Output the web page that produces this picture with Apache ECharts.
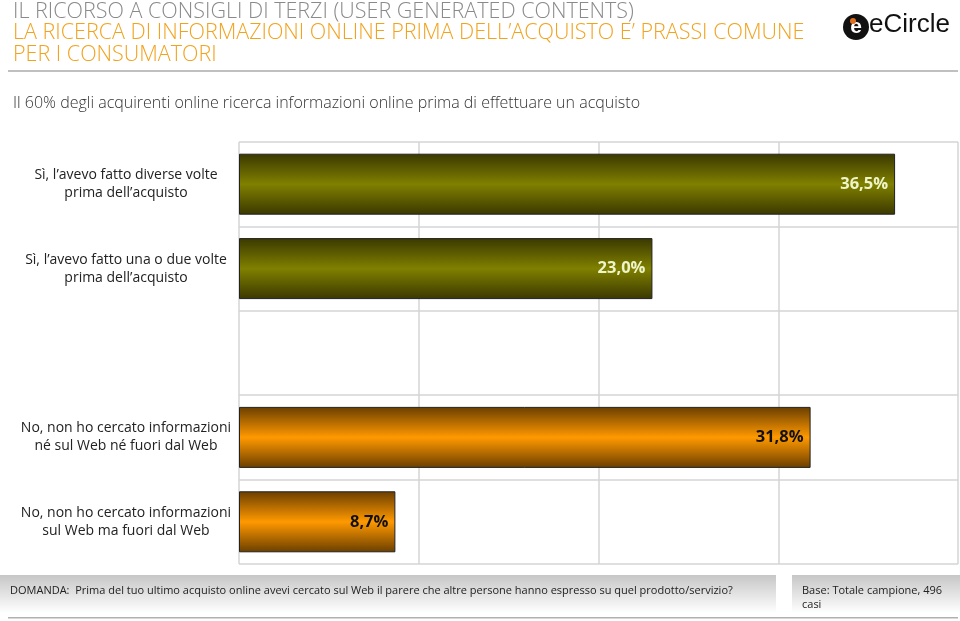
<!DOCTYPE html>
<html><head><meta charset="utf-8">
<script src="https://cdn.jsdelivr.net/npm/echarts@6/dist/echarts.min.js"></script>
<style>html,body{margin:0;padding:0;background:#fff}#c{width:960px;height:621px}</style>
</head><body><div id="c"></div>
<script>
const categories = [
  "Sì, l’avevo fatto diverse volte\nprima dell’acquisto",
  "Sì, l’avevo fatto una o due volte\nprima dell’acquisto",
  "",
  "No, non ho cercato informazioni\nné sul Web né fuori dal Web",
  "No, non ho cercato informazioni\nsul Web ma fuori dal Web"
];
const values = [36.5, 23.0, null, 31.8, 8.7];
const groups = ["olive", "olive", null, "orange", "orange"];

const titleGray = "IL RICORSO A CONSIGLI DI TERZI (USER GENERATED CONTENTS)";
const titleOrange = "LA RICERCA DI INFORMAZIONI ONLINE PRIMA DELL’ACQUISTO E’ PRASSI COMUNE\nPER I CONSUMATORI";
const subtitle = "Il 60% degli acquirenti online ricerca informazioni online prima di effettuare un acquisto";
const question = "DOMANDA:  Prima del tuo ultimo acquisto online avevi cercato sul Web il parere che altre persone hanno espresso su quel prodotto/servizio?";
const baseNote = "Base: Totale campione, 496\ncasi";

function grad(edge, mid) {
  return new echarts.graphic.LinearGradient(0, 0, 0, 1, [
    {offset: 0, color: edge}, {offset: 0.5, color: mid}, {offset: 1, color: edge}
  ]);
}
const styles = {
  olive: {fill: grad('#3a3800', '#808000'), label: '#eef5c8'},
  orange: {fill: grad('#6a3e00', '#ff9900'), label: '#111'}
};

const chart = echarts.init(document.getElementById('c'));
chart.setOption({
  animation: false,
  grid: {left: 239, right: 2, top: 142, bottom: 57},
  xAxis: {
    type: 'value', min: 0, max: 40, interval: 10,
    axisLabel: {show: false}, axisLine: {show: false}, axisTick: {show: false},
    splitLine: {show: true, lineStyle: {color: '#d4d4d4', width: 1.5}}
  },
  yAxis: {
    type: 'category', data: categories, inverse: true,
    axisLine: {show: false}, axisTick: {show: false},
    splitLine: {show: true, lineStyle: {color: '#d4d4d4', width: 1.5}},
    axisLabel: {
      align: 'center', margin: 113, color: '#222',
      fontFamily: 'Open Sans', fontSize: 14, lineHeight: 18
    }
  },
  series: [{
    type: 'bar', barWidth: 61,
    data: values.map((v, i) => v == null ? null : {
      value: v,
      itemStyle: {color: styles[groups[i]].fill, borderColor: '#222', borderWidth: 1},
      label: {color: styles[groups[i]].label}
    }),
    label: {
      show: true, position: 'insideRight', distance: 7,
      fontFamily: 'Open Sans', fontWeight: 'bold', fontSize: 16.5,
      formatter: p => p.value.toFixed(1).replace('.', ',') + '%'
    }
  }],
  graphic: [
    {type: 'text', left: 13, top: 1, style: {text: titleGray, fill: '#8a8a8a', font: '300 21.5px "Open Sans"'}},
    {type: 'text', left: 13, top: 22, style: {text: titleOrange, fill: '#f2a31e', font: '300 21.5px "Open Sans"', lineHeight: 22}},
    {type: 'rect', shape: {x: 8, y: 70, width: 950, height: 2}, style: {fill: '#c0c0c0'}},
    {type: 'text', left: 13, top: 95, style: {text: subtitle, fill: '#333', font: '300 16px "Open Sans"'}},
    {type: 'circle', shape: {cx: 856, cy: 27, r: 13}, style: {fill: '#111'}},
    {type: 'text', x: 856, y: 27, style: {text: 'e', fill: '#fff', font: 'bold 21px "Liberation Sans"', align: 'center', verticalAlign: 'middle'}},
    {type: 'circle', shape: {cx: 853, cy: 21, r: 3}, style: {fill: '#e07020'}},
    {type: 'text', left: 869, top: 12, style: {text: 'eCircle', fill: '#111', font: '26px "Liberation Sans"'}},
    {type: 'rect', shape: {x: 0, y: 575, width: 776, height: 38},
     style: {fill: new echarts.graphic.LinearGradient(0, 0, 0, 1, [{offset: 0, color: '#c6c6c6'}, {offset: 1, color: '#ffffff'}])}},
    {type: 'text', left: 10, top: 585, style: {text: question, fill: '#222', font: '11px "Open Sans"'}},
    {type: 'rect', shape: {x: 792, y: 575, width: 168, height: 38},
     style: {fill: new echarts.graphic.LinearGradient(0, 0, 0, 1, [{offset: 0, color: '#c6c6c6'}, {offset: 1, color: '#ffffff'}])}},
    {type: 'text', left: 802, top: 584, style: {text: baseNote, fill: '#222', font: '11px "Open Sans"', lineHeight: 14}},
    {type: 'rect', shape: {x: 8, y: 617, width: 950, height: 1.5}, style: {fill: '#b0b0b0'}}
  ]
});
</script></body></html>
